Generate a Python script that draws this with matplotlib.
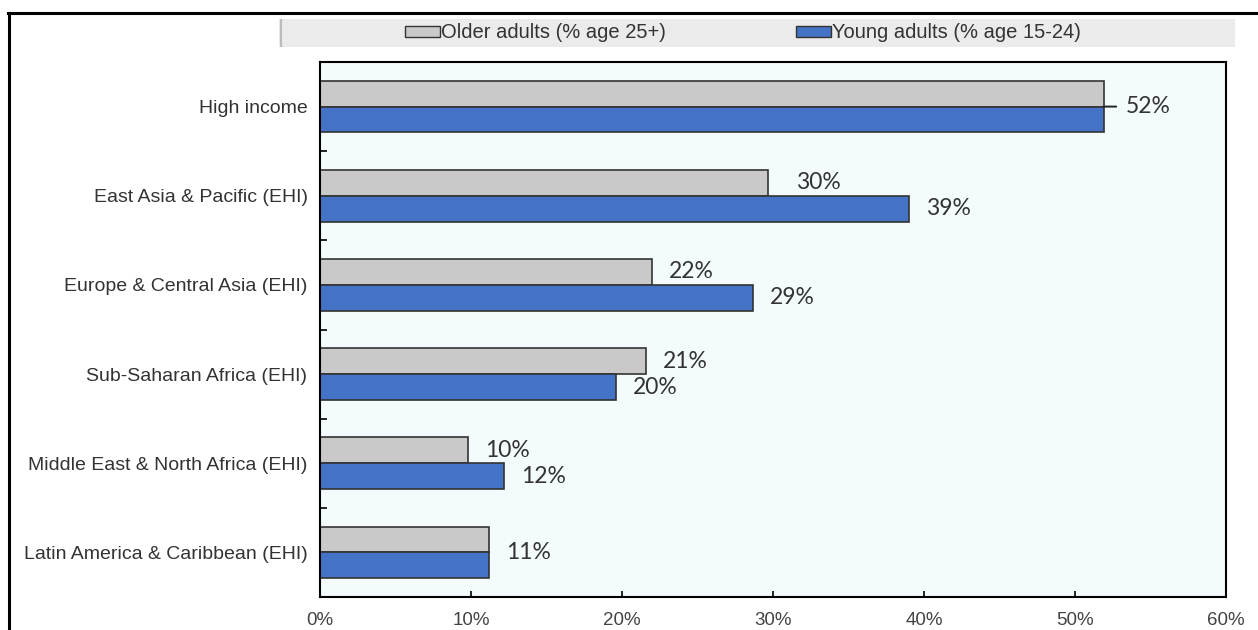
import numpy as np
import matplotlib.pyplot as plt
from matplotlib.patches import Patch, Rectangle
from matplotlib.lines import Line2D

# Data, top to bottom
regions = ['High income', 'East Asia & Pacific (EHI)', 'Europe & Central Asia (EHI)',
           'Sub-Saharan Africa (EHI)', 'Middle East & North Africa (EHI)',
           'Latin America & Caribbean (EHI)']
older = [51.9, 29.7, 22.0, 21.6, 9.8, 11.2]
young = [51.9, 39.0, 28.7, 19.6, 12.2, 11.2]
older_labels = ['', '30%', '22%', '21%', '10%', '']
young_labels = ['', '39%', '29%', '20%', '12%', '']
shared_labels = ['52%', '', '', '', '', '11%']

grey = '#c9c9c9'
blue = '#4473c5'
edge = '#333333'

plt.rcParams['font.family'] = ['Liberation Sans', 'DejaVu Sans']

fig = plt.figure(figsize=(12.58, 6.30), dpi=100)
ax = fig.add_axes([320 / 1258, 1 - 597 / 630, (1226 - 320) / 1258, (597 - 62) / 630])
ax.set_facecolor('#f4fbfd')

y = np.arange(len(regions))
h = 0.29
ax.barh(y - h / 2, older, height=h, color=grey, edgecolor=edge, linewidth=1.2)
ax.barh(y + h / 2, young, height=h, color=blue, edgecolor=edge, linewidth=1.2)

ax.set_xlim(0, 60)
ax.set_ylim(len(regions) - 0.5, -0.5)

# bar value labels
lab_font = dict(family=['Lato', 'DejaVu Sans'], fontsize=16.5, color='#333333', va='center', ha='left')
for i in range(len(regions)):
    if older_labels[i]:
        dx = 20 if i == 1 else 12
        ax.annotate(older_labels[i], (older[i], i - h / 2), xytext=(dx, 0),
                    textcoords='offset points', **lab_font)
    if young_labels[i]:
        ax.annotate(young_labels[i], (young[i], i + h / 2), xytext=(12, 0),
                    textcoords='offset points', **lab_font)
    if shared_labels[i]:
        if i == 0:
            ax.annotate(shared_labels[i], (max(older[i], young[i]), i), xytext=(16, 0),
                        textcoords='offset points',
                        arrowprops=dict(arrowstyle='-', color='#222222', lw=1.4,
                                        shrinkA=5, shrinkB=0), **lab_font)
        else:
            ax.annotate(shared_labels[i], (max(older[i], young[i]), i), xytext=(12, 0),
                        textcoords='offset points', **lab_font)

# ticks
ax.set_yticks(y[:-1] + 0.5)
ax.set_yticklabels([])
ax.set_yticks(y, minor=True)
ax.set_yticklabels(regions, minor=True)
ax.tick_params(axis='y', which='major', direction='in', length=5, width=1.2, color='black')
ax.tick_params(axis='y', which='minor', length=0, pad=9, labelsize=14, labelcolor='#333333')

ax.set_xticks(np.arange(0, 61, 10))
ax.set_xticklabels([f'{v}%' for v in range(0, 61, 10)])
ax.tick_params(axis='x', direction='in', length=4, width=1.2, pad=11,
               labelsize=13.5, labelcolor='#444444')

for s in ax.spines.values():
    s.set_linewidth(1.5)
    s.set_color('black')

# outer frame (top and left)
fig.add_artist(Line2D([8 / 1258, 1], [1 - 13 / 630] * 2, color='black', lw=2.2,
                      transform=fig.transFigure))
fig.add_artist(Line2D([9 / 1258] * 2, [0, 1 - 13 / 630], color='black', lw=2.2,
                      transform=fig.transFigure))

# legend band
fig.add_artist(Rectangle((279 / 1258, 1 - 47 / 630), (1235 - 279) / 1258, 28 / 630,
                         transform=fig.transFigure, facecolor='#ebebeb', edgecolor='none'))
fig.add_artist(Line2D([281 / 1258] * 2, [1 - 46 / 630, 1 - 20 / 630], color='#bbbbbb', lw=1.5,
                      transform=fig.transFigure))

handles = [Patch(facecolor=grey, edgecolor=edge, linewidth=1.0, label='Older adults (% age 25+)'),
           Patch(facecolor=blue, edgecolor=edge, linewidth=1.0, label='Young adults (% age 15-24)')]
fig.legend(handles=handles, loc='center', bbox_to_anchor=(743 / 1258, 1 - 33 / 630), ncol=2,
           frameon=False, fontsize=14.5, handlelength=1.7, handleheight=0.5,
           handletextpad=0.05, columnspacing=6.5, labelcolor='#333333')

fig.savefig('out.png', dpi=100)
